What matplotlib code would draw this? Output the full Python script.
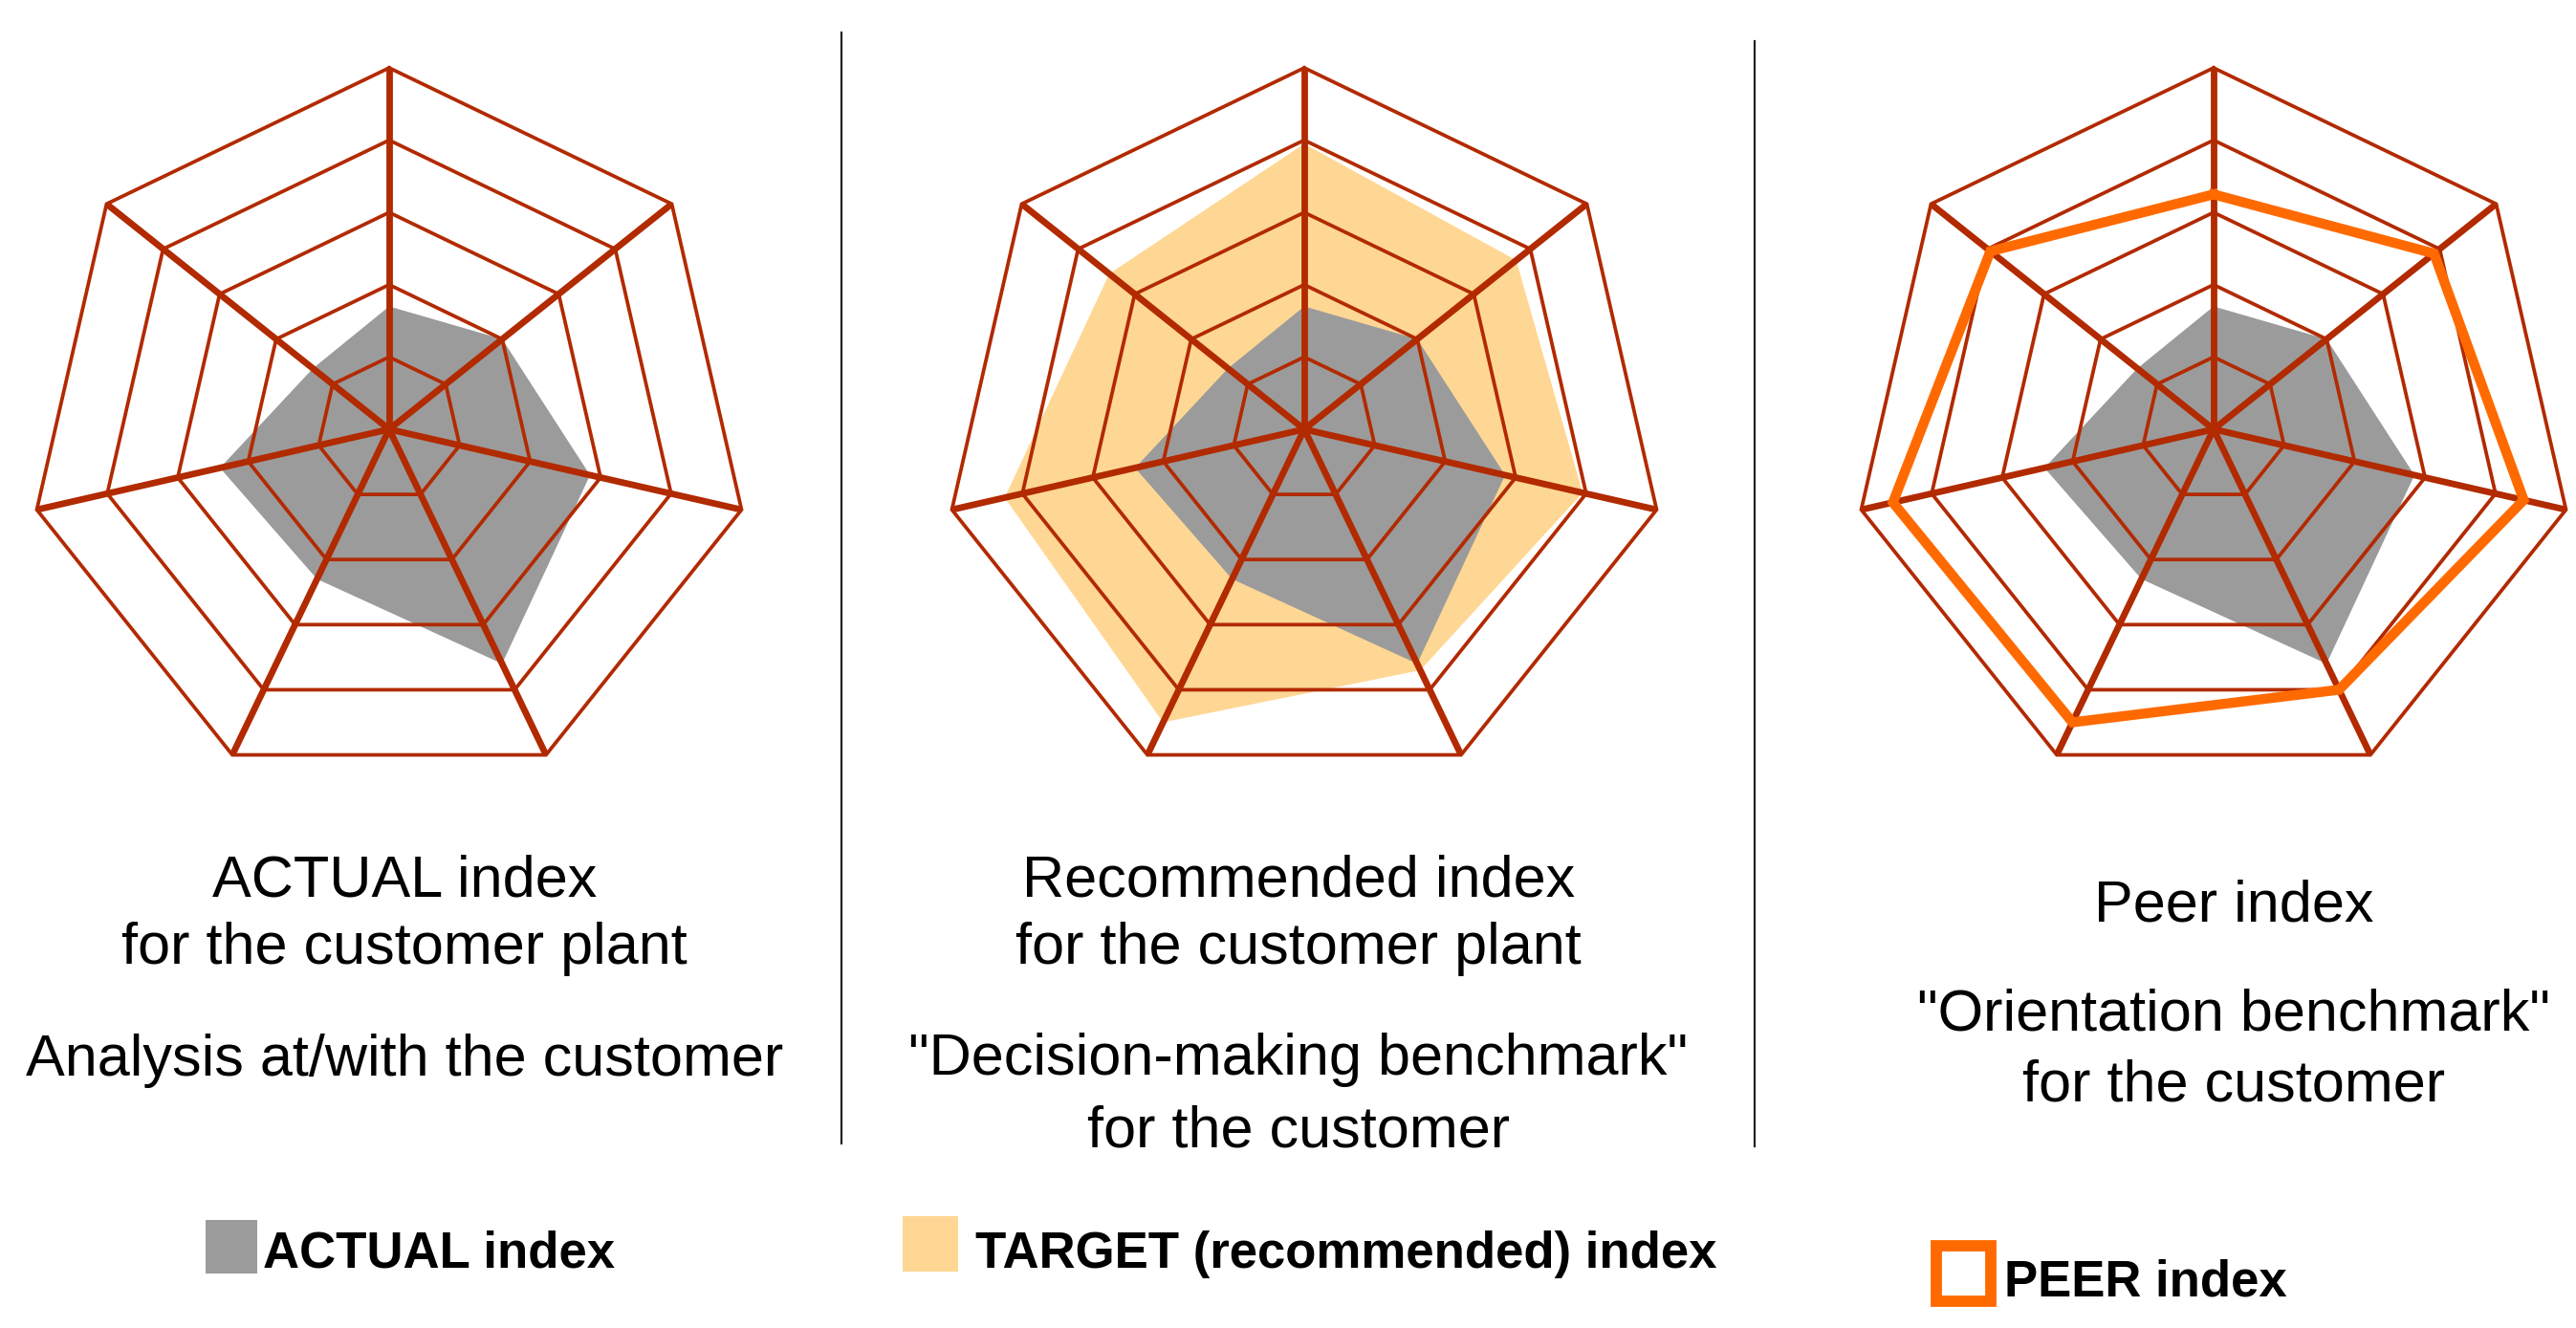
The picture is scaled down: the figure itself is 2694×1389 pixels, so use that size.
import numpy as np
import matplotlib.pyplot as plt
from matplotlib.patches import Rectangle

plt.rcParams['font.family'] = ['Liberation Sans', 'DejaVu Sans']

# seven criteria, first one at the top, going clockwise
n_axes = 7
ring_levels = [0.2, 0.4, 0.6, 0.8, 1.0]

actual = [0.34, 0.40, 0.57, 0.72, 0.46, 0.48, 0.27]
target = [0.79, 0.75, 0.79, 0.74, 0.90, 0.85, 0.69]
peer = [0.65, 0.78, 0.88, 0.80, 0.90, 0.91, 0.79]

panel_titles = [
    ["ACTUAL index", "for the customer plant", "Analysis at/with the customer"],
    ["Recommended index", "for the customer plant",
     '"Decision-making benchmark"', "for the customer"],
    ["Peer index", '"Orientation benchmark"', "for the customer"],
]
legend_labels = ["ACTUAL index", "TARGET (recommended) index", "PEER index"]

GRID = "#B22A00"
GRAY = "#9B9B9B"
TARGET_FILL = "#FFD794"
PEER_LINE = "#FF6A00"

W, H = 2694, 1389
fig = plt.figure(figsize=(W / 100, H / 100), dpi=100)

angles = np.pi / 2 - np.arange(n_axes) * 2 * np.pi / n_axes


def to_xy(values):
    v = np.asarray(values, dtype=float)
    x = v * np.cos(angles)
    y = v * np.sin(angles)
    return np.append(x, x[0]), np.append(y, y[0])


def radar_axes(cx, cy, r, pad=1.1):
    ax = fig.add_axes([(cx - pad * r) / W, 1 - (cy + pad * r) / H,
                       2 * pad * r / W, 2 * pad * r / H])
    ax.set_xlim(-pad, pad)
    ax.set_ylim(-pad, pad)
    ax.set_aspect("equal")
    ax.axis("off")
    return ax


def draw_grid(ax):
    for lv in ring_levels:
        x, y = to_xy([lv] * n_axes)
        ax.plot(x, y, color=GRID, lw=2.7, zorder=3, solid_joinstyle="miter")
    for a in angles:
        ax.plot([0, np.cos(a)], [0, np.sin(a)], color=GRID, lw=4.9,
                zorder=3, solid_capstyle="butt")


centers = [(407, 449), (1364, 449), (2315, 449)]
R = 378

# panel 1: actual
ax1 = radar_axes(*centers[0], R)
ax1.fill(*to_xy(actual), color=GRAY, lw=0, zorder=1)
draw_grid(ax1)

# panel 2: target over actual
ax2 = radar_axes(*centers[1], R)
ax2.fill(*to_xy(target), color=TARGET_FILL, lw=0, zorder=1)
ax2.fill(*to_xy(actual), color=GRAY, lw=0, zorder=2)
draw_grid(ax2)

# panel 3: peer outline over actual
ax3 = radar_axes(*centers[2], R)
ax3.fill(*to_xy(actual), color=GRAY, lw=0, zorder=1)
draw_grid(ax3)
ax3.plot(*to_xy(peer), color=PEER_LINE, lw=7.5, zorder=4,
         solid_joinstyle="miter")

# overlay in pixel units for text, dividers and legend
ov = fig.add_axes([0, 0, 1, 1], zorder=-1)
ov.set_xlim(0, W)
ov.set_ylim(H, 0)
ov.axis("off")

ov.plot([880, 880], [34, 1196], color="#222222", lw=1.6)
ov.plot([1835, 1835], [43, 1199], color="#222222", lw=1.6)

text_x = [423, 1358, 2336]
text_y = [[937, 1008, 1125], [937, 1008, 1124, 1199], [963, 1078, 1152]]
for tx, lines, ys in zip(text_x, panel_titles, text_y):
    for line, ty in zip(lines, ys):
        ov.text(tx, ty, line, ha="center", va="baseline", fontsize=44,
                color="black")

# legend swatches
ov.add_patch(Rectangle((215, 1276), 54, 56, color=GRAY, lw=0))
ov.text(275, 1325, legend_labels[0], fontsize=38, fontweight="bold",
        va="baseline", ha="left")
ov.add_patch(Rectangle((944, 1272), 58, 58, color=TARGET_FILL, lw=0))
ov.text(1020, 1326, legend_labels[1], fontsize=38, fontweight="bold",
        va="baseline", ha="left")
ov.add_patch(Rectangle((2025, 1303), 57, 58, facecolor="white",
                       edgecolor=PEER_LINE, lw=8.5))
ov.text(2096, 1355, legend_labels[2], fontsize=38, fontweight="bold",
        va="baseline", ha="left")

fig.savefig("out.png", dpi=100, facecolor="white")
